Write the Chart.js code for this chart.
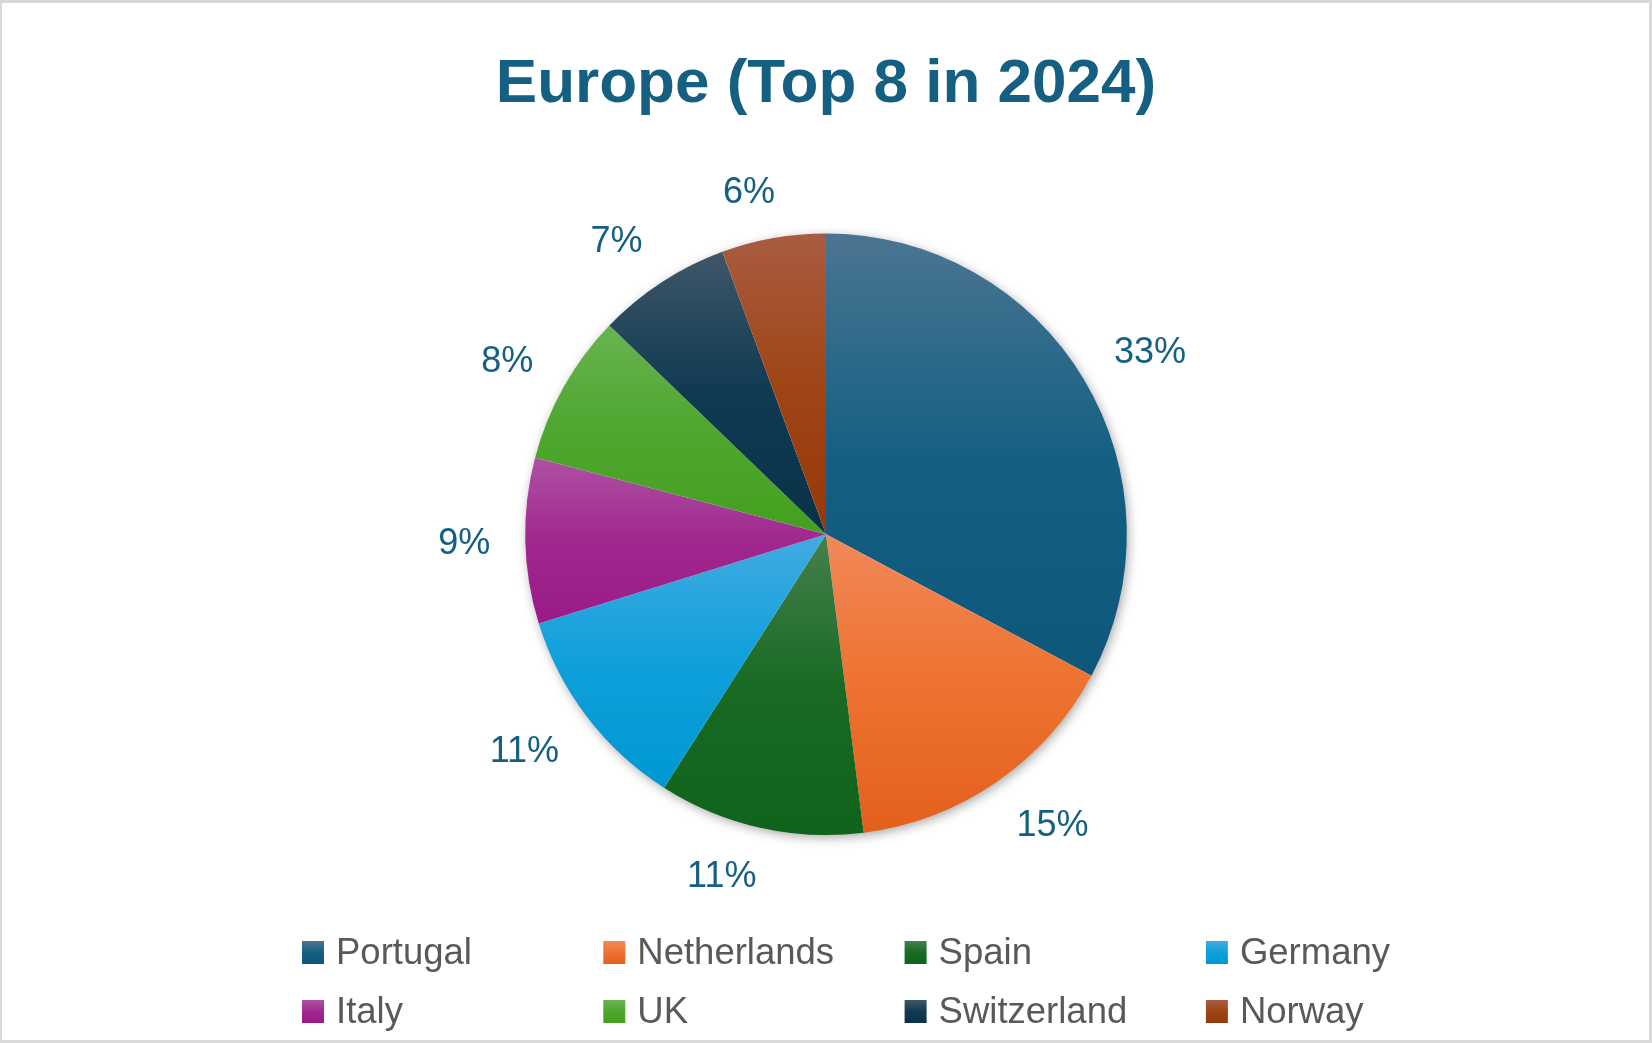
<!DOCTYPE html>
<html>
<head>
<meta charset="utf-8">
<script src="https://cdn.jsdelivr.net/npm/chart.js@4.4.1/dist/chart.umd.min.js"></script>
<style>
  html, body { margin: 0; padding: 0; background: #ffffff; }
  #wrap { position: absolute; left: 0; top: 0; width: 1652px; height: 1043px; }
  canvas { display: block; }
</style>
</head>
<body>
<div id="wrap"><canvas id="c" width="1652" height="1043"></canvas></div>
<script>
// ---- data ----
const categories = ['Portugal', 'Netherlands', 'Spain', 'Germany', 'Italy', 'UK', 'Switzerland', 'Norway'];
const shares = [32.8, 15.2, 11.05, 11.15, 8.9, 8.1, 7.2, 5.6];
const chartTitle = 'Europe (Top 8 in 2024)';

// ---- styles ----
const topColors    = ['#4b7592', '#f1895a', '#477f4e', '#42abe0', '#ae52a2', '#69b351', '#3f5668', '#a85c42'];
const midColors    = ['#156082', '#ee7230', '#196b24', '#0fa0dc', '#a0288f', '#4ea72e', '#103a52', '#9f4516'];
const bottomColors = ['#0c577a', '#e3601c', '#10631a', '#0098d2', '#9a1a88', '#44a020', '#083248', '#973808'];
const labelColor = '#156082';
const legendTextColor = '#595959';

function sliceGradient(context) {
  const chart = context.chart;
  const area = chart.chartArea;
  const i = context.dataIndex;
  if (!area || i === undefined) return midColors[i || 0];
  const cx = (area.left + area.right) / 2;
  const cy = (area.top + area.bottom) / 2;
  const r = Math.min(area.right - area.left, area.bottom - area.top) / 2;
  const total = shares.reduce((a, b) => a + b, 0);
  let before = 0;
  for (let k = 0; k < i; k++) before += shares[k];
  const a0 = -Math.PI / 2 + before / total * 2 * Math.PI;
  const a1 = a0 + shares[i] / total * 2 * Math.PI;
  let ys = [cy, cy + r * Math.sin(a0), cy + r * Math.sin(a1)];
  for (let k = -1; k <= 2; k++) {
    const top = -Math.PI / 2 + 2 * Math.PI * k;
    const bot = Math.PI / 2 + 2 * Math.PI * k;
    if (top > a0 && top < a1) ys.push(cy - r);
    if (bot > a0 && bot < a1) ys.push(cy + r);
  }
  const yMin = Math.min(...ys), yMax = Math.max(...ys);
  const g = chart.ctx.createLinearGradient(0, yMin, 0, yMax);
  g.addColorStop(0, topColors[i]);
  g.addColorStop(0.5, midColors[i]);
  g.addColorStop(1, bottomColors[i]);
  return g;
}

const framePlugin = {
  id: 'frame',
  beforeDraw(chart) {
    const ctx = chart.ctx;
    ctx.save();
    ctx.fillStyle = '#ffffff';
    ctx.fillRect(0, 0, chart.width, chart.height);
    ctx.fillStyle = '#d9d9d9';
    ctx.fillRect(0, 0, chart.width, 3);
    ctx.fillRect(0, chart.height - 3, chart.width, 3);
    ctx.fillRect(0, 0, 2, chart.height);
    ctx.fillRect(chart.width - 3, 0, 3, chart.height);
    ctx.restore();
  }
};

const shadowPlugin = {
  id: 'pieShadow',
  beforeDatasetsDraw(chart) {
    const meta = chart.getDatasetMeta(0);
    if (!meta.data.length) return;
    const el = meta.data[0];
    const ctx = chart.ctx;
    ctx.save();
    ctx.shadowColor = 'rgba(0,0,0,0.38)';
    ctx.shadowBlur = 12;
    ctx.shadowOffsetX = 2;
    ctx.shadowOffsetY = 3;
    ctx.fillStyle = '#ffffff';
    ctx.beginPath();
    ctx.arc(el.x, el.y, el.outerRadius - 1, 0, Math.PI * 2);
    ctx.fill();
    ctx.restore();
  }
};

const labelPlugin = {
  id: 'outsideLabels',
  afterDatasetsDraw(chart) {
    const meta = chart.getDatasetMeta(0);
    const ctx = chart.ctx;
    const total = shares.reduce((a, b) => a + b, 0);
    ctx.save();
    ctx.font = '36px "Liberation Sans", Arial, sans-serif';
    ctx.fillStyle = labelColor;
    ctx.textAlign = 'center';
    ctx.textBaseline = 'alphabetic';
    const capH = 26;
    const gap = 35;
    meta.data.forEach((el, i) => {
      const mid = (el.startAngle + el.endAngle) / 2;
      const ux = Math.cos(mid), uy = Math.sin(mid);
      const txt = Math.round(shares[i] / total * 100) + '%';
      const w = ctx.measureText(txt).width;
      const px = el.x + (el.outerRadius + gap) * ux;
      const py = el.y + (el.outerRadius + gap) * uy;
      const kx = Math.max(-1, Math.min(1, ux * 4));
      const ky = Math.max(-1, Math.min(1, uy * 1.5));
      const tx = px + kx * w / 2;
      const ty = py + ky * capH / 2;
      ctx.fillText(txt, tx, ty + capH / 2 - 1);
    });
    ctx.restore();
  }
};

const legendPlugin = {
  id: 'gridLegend',
  afterDraw(chart) {
    const ctx = chart.ctx;
    const colStart = 302, colStep = 301.3;
    const baselines = [964, 1023];
    const box = 22, boxH = 23;
    ctx.save();
    ctx.font = '36.5px "Liberation Sans", Arial, sans-serif';
    ctx.textAlign = 'left';
    ctx.textBaseline = 'alphabetic';
    categories.forEach((name, i) => {
      const col = i % 4, row = Math.floor(i / 4);
      const x = colStart + col * colStep;
      const base = baselines[row];
      const g = ctx.createLinearGradient(0, base - boxH, 0, base);
      g.addColorStop(0, topColors[i]);
      g.addColorStop(0.5, midColors[i]);
      g.addColorStop(1, bottomColors[i]);
      ctx.fillStyle = g;
      ctx.fillRect(x, base - boxH, box, boxH);
      ctx.fillStyle = legendTextColor;
      ctx.fillText(name, x + 34, base);
    });
    ctx.restore();
  }
};

new Chart(document.getElementById('c'), {
  type: 'pie',
  data: {
    labels: categories,
    datasets: [{
      data: shares,
      backgroundColor: sliceGradient,
      borderWidth: 0,
      hoverOffset: 0
    }]
  },
  options: {
    responsive: false,
    animation: false,
    devicePixelRatio: 1,
    layout: { padding: { top: 0, bottom: 208, left: 0, right: 0 } },
    plugins: {
      legend: { display: false },
      tooltip: { enabled: false },
      title: {
        display: true,
        text: chartTitle,
        color: '#156082',
        font: { family: '"Liberation Sans", Arial, sans-serif', size: 62, weight: 'bold', lineHeight: 1.2 },
        padding: { top: 48, bottom: 111 }
      }
    }
  },
  plugins: [framePlugin, shadowPlugin, labelPlugin, legendPlugin]
});
</script>
</body>
</html>
